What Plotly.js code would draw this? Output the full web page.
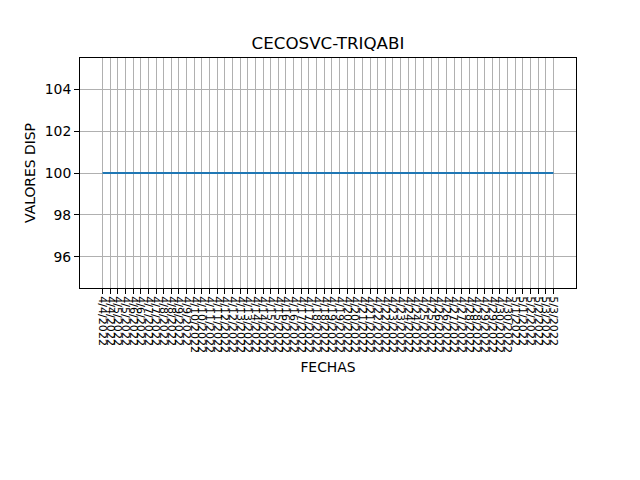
<!DOCTYPE html>
<html>
<head>
<meta charset="utf-8">
<script src="https://cdn.plot.ly/plotly-3.0.1.min.js"></script>
<style>html,body{margin:0;padding:0;background:#fff;}#chart{width:640px;height:480px;}</style>
</head>
<body>
<div id="chart"></div>
<script>
const fechas = [
  "4/4/2022","4/4/2022","4/5/2022","4/5/2022","4/6/2022","4/6/2022","4/7/2022","4/7/2022",
  "4/8/2022","4/8/2022","4/9/2022","4/9/2022","4/10/2022","4/10/2022","4/11/2022","4/11/2022",
  "4/12/2022","4/12/2022","4/13/2022","4/13/2022","4/14/2022","4/14/2022","4/15/2022","4/15/2022",
  "4/16/2022","4/16/2022","4/17/2022","4/17/2022","4/18/2022","4/18/2022","4/19/2022","4/19/2022",
  "4/20/2022","4/20/2022","4/21/2022","4/21/2022","4/22/2022","4/22/2022","4/23/2022","4/23/2022",
  "4/24/2022","4/24/2022","4/25/2022","4/25/2022","4/26/2022","4/26/2022","4/27/2022","4/27/2022",
  "4/28/2022","4/28/2022","4/29/2022","4/29/2022","4/30/2022","4/30/2022","5/1/2022","5/1/2022",
  "5/2/2022","5/2/2022","5/3/2022","5/3/2022"
];
const valores = [
  100,100,100,100,100,100,100,100,100,100,100,100,100,100,100,100,100,100,100,100,
  100,100,100,100,100,100,100,100,100,100,100,100,100,100,100,100,100,100,100,100,
  100,100,100,100,100,100,100,100,100,100,100,100,100,100,100,100,100,100,100,100
];
const yTicks = [96, 98, 100, 102, 104];

const idx = fechas.map((_, i) => i);
const n = fechas.length - 1;
const font = {family: "DejaVu Sans", size: 13.9, color: "#000"};

Plotly.newPlot("chart", [{
  x: idx, y: valores, type: "scatter", mode: "lines",
  line: {color: "#1f77b4", width: 2}, showlegend: false
}], {
  width: 640, height: 480,
  margin: {l: 80, r: 64, t: 58, b: 192},
  paper_bgcolor: "#fff", plot_bgcolor: "#fff",
  font: font,
  title: {text: "CECOSVC-TRIQABI", font: {family: "DejaVu Sans", size: 16.7, color: "#000"},
          x: 0.5, xref: "paper", y: 1, yref: "paper", yanchor: "bottom", pad: {b: 9}},
  xaxis: {
    range: [-0.05 * n, n * 1.05],
    tickmode: "array", tickvals: idx, ticktext: fechas, tickangle: 90,
    ticks: "outside", ticklen: 5, tickcolor: "#000", tickwidth: 1,
    showgrid: true, gridcolor: "#b0b0b0", gridwidth: 1,
    showline: true, linecolor: "#000", linewidth: 1, mirror: true,
    zeroline: false, automargin: false,
    tickfont: {family: "DejaVu Sans", size: 11.1, color: "#000"},
    title: {text: "FECHAS", font: {family: "DejaVu Sans", size: 13.9, color: "#000"}, standoff: 10}
  },
  yaxis: {
    range: [94.5, 105.5],
    tickmode: "array", tickvals: yTicks, ticktext: yTicks.map(String),
    ticks: "outside", ticklen: 5, tickcolor: "#000", tickwidth: 1,
    showgrid: true, gridcolor: "#b0b0b0", gridwidth: 1,
    showline: true, linecolor: "#000", linewidth: 1, mirror: true,
    zeroline: false, automargin: false,
    tickfont: {family: "DejaVu Sans", size: 13.9, color: "#000"},
    title: {text: "VALORES DISP", font: {family: "DejaVu Sans", size: 13.9, color: "#000"}, standoff: 5}
  }
}, {displayModeBar: false, staticPlot: true});
</script>
</body>
</html>
